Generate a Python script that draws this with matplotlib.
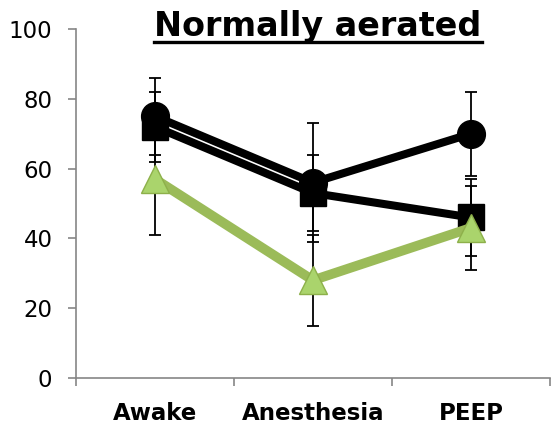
import matplotlib.pyplot as plt
from matplotlib.lines import Line2D
import numpy as np

# categories and series
categories = ['Awake', 'Anesthesia', 'PEEP']
circle_vals = [75, 56, 70]
circle_err = [11, 17, 12]
square_vals = [72, 53, 46]
square_err = [10, 11, 11]
tri_vals = [57, 28, 43]
tri_err = [16, 13, 12]

x = np.arange(len(categories))

fig = plt.figure(figsize=(5.51, 4.28), dpi=100)
ax = fig.add_axes([0.138, 0.117, 0.86, 0.815])

# error bars first, markers on top
for vals, err in [(circle_vals, circle_err), (square_vals, square_err), (tri_vals, tri_err)]:
    ax.errorbar(x, vals, yerr=err, fmt='none', ecolor='black', elinewidth=1.3,
                capsize=4.3, capthick=1.3, zorder=1)

ax.plot(x, circle_vals, color='black', lw=5.8, marker='o', ms=20,
        solid_capstyle='butt', zorder=3)
ax.plot(x, square_vals, color='black', lw=5.8, marker='s', ms=18.5,
        solid_capstyle='butt', zorder=3)
ax.plot(x, tri_vals, color='#9BBB59', lw=7, marker='^', ms=20,
        markerfacecolor='#AAD46C', markeredgecolor='#8DB04A', markeredgewidth=1,
        solid_capstyle='butt', zorder=4)

ax.set_xlim(-0.5, 2.5)
ax.set_ylim(0, 100)
ax.set_yticks([0, 20, 40, 60, 80, 100])
ax.set_xticks(x)
ax.set_xticklabels(categories, fontsize=16.5, fontweight='bold')
ax.set_xticks([-0.5, 0.5, 1.5, 2.5], minor=True)
ax.tick_params(axis='x', which='major', length=0, pad=17)
ax.tick_params(axis='x', which='minor', length=6, width=1.2, color='#868686')
ax.tick_params(axis='y', length=6, width=1.2, color='#868686', labelsize=16.5, pad=11)

for s in ['top', 'right']:
    ax.spines[s].set_visible(False)
for s in ['left', 'bottom']:
    ax.spines[s].set_color('#868686')
    ax.spines[s].set_linewidth(1.2)

# title with underline
title = fig.text(0.577, 0.937, 'Normally aerated', fontsize=24, fontweight='bold',
                 ha='center', va='center')
fig.canvas.draw()
bb = title.get_window_extent().transformed(fig.transFigure.inverted())
y_line = bb.y0 + 0.003
fig.add_artist(Line2D([bb.x0, bb.x1], [y_line, y_line], color='black', lw=2.4,
                      transform=fig.transFigure))

fig.savefig('out.png', dpi=100)
